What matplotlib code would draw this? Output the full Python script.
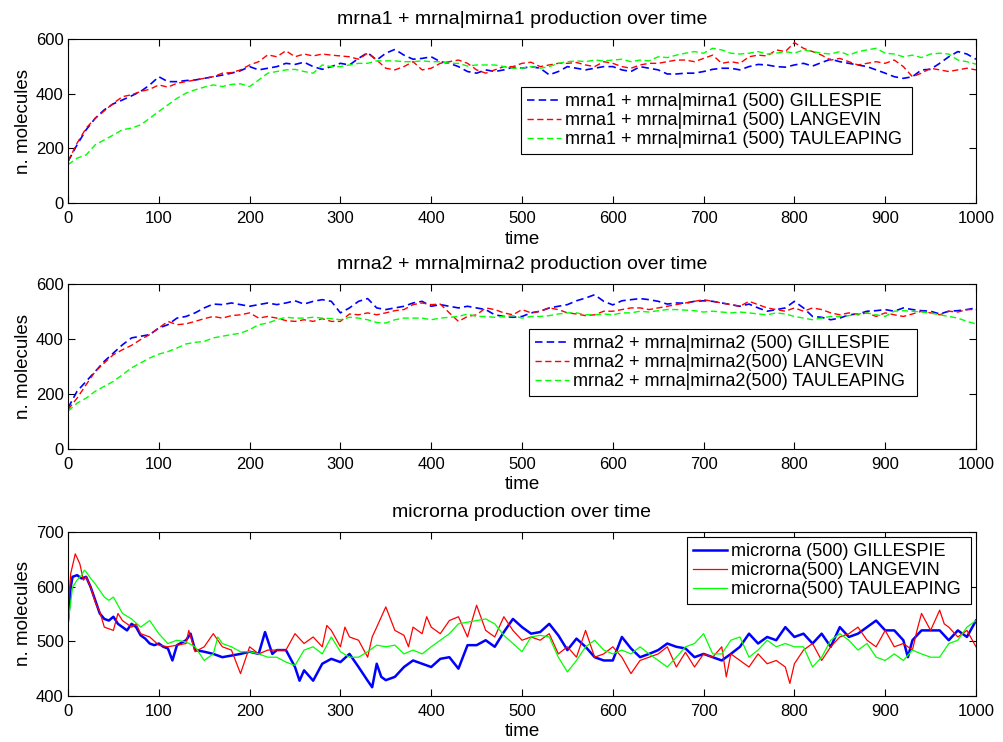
import numpy as np
import matplotlib
matplotlib.use("Agg")
import matplotlib.pyplot as plt

plt.rcParams['font.family'] = ['Liberation Sans', 'DejaVu Sans']

# ---------------- data: panel 1 & 2 (time grid every 10 units) ----------------
time_grid = np.arange(0, 1001, 10)

mrna1_gillespie = [
    152, 213, 268, 310, 341, 363, 377, 392, 408, 432,
    462, 444, 444, 448, 450, 456, 462, 468, 475, 484,
    499, 487, 493, 499, 511, 507, 515, 499, 489, 499,
    511, 505, 529, 550, 523, 548, 562, 541, 526, 529,
    535, 517, 511, 499, 481, 475, 487, 481, 487, 497,
    493, 499, 493, 469, 481, 499, 493, 487, 493, 499,
    499, 487, 481, 499, 493, 487, 472, 472, 475, 475,
    481, 489, 493, 493, 487, 499, 507, 505, 499, 497,
    505, 511, 501, 514, 526, 517, 511, 505, 499, 487,
    475, 462, 456, 462, 487, 489, 511, 535, 554, 545,
    526]
mrna1_langevin = [
    152, 219, 274, 310, 337, 365, 389, 396, 408, 416,
    432, 424, 438, 444, 450, 456, 462, 475, 477, 487,
    505, 517, 542, 535, 557, 535, 545, 538, 545, 541,
    538, 535, 526, 548, 523, 493, 487, 499, 517, 487,
    493, 511, 517, 523, 511, 487, 475, 487, 499, 499,
    511, 515, 499, 505, 511, 511, 514, 505, 499, 517,
    511, 499, 493, 505, 511, 511, 517, 523, 523, 517,
    529, 541, 511, 517, 511, 535, 541, 538, 560, 554,
    587, 566, 554, 541, 523, 529, 517, 505, 511, 517,
    511, 523, 499, 462, 475, 493, 487, 481, 487, 493,
    487]
mrna1_tauleaping = [
    140, 164, 176, 213, 231, 249, 268, 274, 286, 310,
    335, 359, 383, 402, 414, 424, 432, 426, 434, 436,
    426, 450, 475, 481, 487, 489, 481, 475, 505, 499,
    499, 505, 511, 511, 520, 520, 520, 517, 517, 520,
    517, 517, 511, 511, 501, 505, 505, 505, 499, 493,
    493, 499, 493, 499, 511, 517, 520, 517, 523, 520,
    523, 526, 517, 523, 520, 535, 532, 541, 548, 554,
    548, 566, 560, 548, 545, 548, 554, 545, 548, 554,
    548, 560, 554, 548, 545, 554, 541, 554, 560, 566,
    548, 545, 535, 541, 532, 545, 548, 545, 523, 517,
    508]

mrna2_gillespie = [
    149, 210, 246, 282, 319, 349, 379, 404, 410, 416,
    440, 452, 476, 482, 495, 513, 527, 525, 531, 525,
    519, 525, 531, 525, 531, 539, 527, 537, 543, 537,
    495, 513, 537, 547, 513, 507, 513, 519, 531, 537,
    519, 525, 519, 513, 519, 513, 507, 488, 482, 479,
    482, 495, 501, 513, 519, 525, 539, 549, 561, 537,
    524, 539, 543, 547, 543, 537, 527, 531, 530, 537,
    539, 537, 531, 525, 519, 527, 513, 501, 507, 513,
    537, 513, 482, 479, 470, 476, 488, 491, 501, 503,
    507, 501, 513, 507, 503, 501, 491, 501, 503, 507,
    513]
mrna2_langevin = [
    143, 185, 234, 282, 313, 343, 361, 377, 398, 416,
    440, 464, 452, 455, 464, 474, 482, 476, 485, 488,
    495, 476, 482, 476, 467, 464, 470, 464, 474, 464,
    464, 491, 488, 495, 488, 495, 503, 507, 525, 531,
    525, 527, 495, 464, 482, 488, 513, 507, 495, 488,
    507, 495, 501, 513, 507, 495, 491, 485, 488, 501,
    501, 507, 513, 513, 507, 513, 519, 525, 531, 537,
    543, 537, 531, 525, 519, 537, 525, 513, 507, 501,
    513, 501, 513, 507, 495, 488, 495, 488, 495, 482,
    495, 488, 482, 491, 501, 495, 488, 501, 498, 507,
    507]
mrna2_tauleaping = [
    137, 167, 185, 210, 228, 246, 270, 295, 313, 331,
    345, 354, 367, 382, 388, 391, 404, 410, 416, 421,
    434, 452, 458, 470, 479, 476, 476, 479, 476, 474,
    470, 479, 476, 470, 460, 458, 470, 476, 476, 476,
    470, 476, 479, 482, 491, 482, 482, 479, 482, 485,
    476, 482, 482, 485, 491, 495, 495, 488, 488, 491,
    488, 495, 495, 501, 498, 503, 507, 507, 505, 503,
    498, 501, 498, 495, 498, 495, 491, 488, 495, 491,
    482, 476, 470, 476, 482, 482, 485, 491, 495, 488,
    482, 501, 503, 501, 498, 495, 488, 482, 476, 464,
    455]

# ---------------- data: panel 3 (microrna) ----------------
mi_gil_t = [0, 3, 5, 10, 15, 20, 25, 30, 35, 40, 45, 50, 55, 60, 65, 70, 75, 80, 85, 90,
            95, 100, 105, 110, 115, 120, 130, 135, 140, 150, 160, 170, 180, 190, 200, 210,
            217, 225, 230, 240, 250, 255, 260, 270, 280, 290, 300, 310, 320, 330, 335, 340,
            345, 350, 360, 370, 380, 390, 400, 410, 420, 430, 440, 450, 460, 470, 480, 490,
            500, 510, 520, 530, 540, 550, 560, 570, 580, 590, 600, 610, 620, 630, 640, 650,
            660, 670, 680, 690, 700, 710, 720, 730, 740, 750, 760, 770, 780, 790, 800, 810,
            820, 830, 840, 850, 860, 870, 880, 890, 900, 910, 920, 925, 930, 940, 950, 960,
            970, 980, 990, 1000]
mi_gil_v = [538, 599, 618, 621, 615, 618, 599, 575, 551, 541, 538, 545, 532, 526, 520, 532, 526, 511, 505, 496,
            493, 496, 490, 487, 465, 493, 502, 514, 484, 481, 477, 471, 474, 477, 481, 477,
            517, 477, 484, 484, 453, 428, 447, 428, 459, 468, 462, 477, 453, 428, 416, 459,
            435, 429, 435, 453, 465, 459, 453, 468, 471, 450, 493, 493, 502, 490, 517, 541,
            526, 514, 517, 532, 511, 484, 505, 490, 471, 465, 465, 508, 487, 471, 477, 484,
            496, 490, 487, 471, 477, 471, 465, 477, 490, 514, 496, 508, 502, 526, 508, 514,
            496, 514, 490, 526, 508, 514, 526, 538, 520, 520, 502, 471, 502, 520, 520, 520,
            502, 520, 508, 538]

mi_lan_t = [0, 3, 8, 13, 17, 20, 25, 30, 35, 40, 50, 55, 60, 70, 75, 80, 90, 100, 110, 120,
            130, 133, 140, 150, 160, 170, 180, 190, 200, 210, 220, 230, 240, 250, 260, 270,
            280, 285, 290, 300, 305, 310, 320, 330, 335, 340, 350, 360, 370, 375, 380, 390,
            395, 400, 410, 420, 430, 440, 445, 450, 460, 470, 480, 490, 500, 510, 520, 530,
            540, 550, 560, 570, 580, 590, 600, 610, 620, 630, 640, 650, 660, 670, 680, 690,
            700, 710, 720, 725, 730, 740, 750, 760, 770, 780, 790, 795, 800, 810, 820, 830,
            840, 850, 860, 870, 880, 890, 900, 910, 920, 930, 935, 940, 950, 960, 965, 970,
            980, 990, 1000]
mi_lan_v = [557, 624, 660, 642, 612, 618, 599, 572, 554, 526, 520, 551, 538, 526, 532, 514, 508, 493, 490, 493,
            496, 520, 481, 490, 514, 490, 484, 441, 490, 477, 484, 484, 484, 514, 496, 508,
            490, 529, 520, 490, 526, 508, 502, 471, 508, 526, 563, 520, 511, 490, 526, 514,
            545, 526, 514, 538, 545, 508, 538, 566, 520, 508, 545, 520, 502, 508, 502, 514,
            477, 490, 471, 520, 471, 477, 490, 471, 441, 465, 471, 477, 490, 453, 480, 453,
            477, 471, 490, 435, 477, 465, 453, 477, 459, 465, 453, 423, 459, 484, 496, 465,
            490, 508, 514, 526, 502, 490, 520, 490, 496, 484, 520, 551, 520, 557, 532, 526,
            508, 520, 490]

mi_tau_t = [0, 5, 10, 15, 18, 20, 25, 30, 40, 45, 50, 55, 60, 70, 80, 90, 100, 110, 120, 130,
            140, 150, 160, 165, 170, 180, 190, 200, 210, 220, 230, 240, 250, 260, 270, 280,
            290, 300, 310, 320, 330, 340, 350, 360, 370, 380, 390, 400, 410, 420, 430, 440,
            450, 460, 470, 480, 490, 500, 510, 520, 530, 540, 550, 560, 570, 580, 590, 600,
            610, 620, 630, 640, 650, 660, 670, 680, 690, 700, 710, 720, 730, 740, 750, 760,
            770, 780, 790, 800, 810, 820, 830, 840, 850, 860, 870, 880, 890, 900, 910, 920,
            930, 940, 950, 960, 970, 980, 990, 1000]
mi_tau_v = [532, 599, 612, 621, 630, 627, 615, 605, 581, 575, 581, 566, 551, 541, 526, 538, 514, 496, 502, 499,
            490, 465, 477, 508, 496, 490, 481, 481, 477, 471, 471, 462, 456, 484, 490, 477,
            508, 481, 471, 471, 481, 493, 490, 493, 477, 484, 477, 490, 502, 514, 532, 535,
            538, 541, 532, 511, 496, 481, 508, 511, 508, 471, 444, 465, 490, 502, 484, 477,
            484, 477, 490, 477, 465, 453, 471, 490, 496, 514, 477, 477, 502, 508, 471, 484,
            502, 490, 496, 490, 490, 453, 471, 502, 514, 502, 484, 496, 471, 465, 477, 465,
            484, 477, 471, 471, 496, 502, 526, 538]

titles = ["mrna1 + mrna|mirna1 production over time",
          "mrna2 + mrna|mirna2 production over time",
          "microrna production over time"]
labels1 = ["mrna1 + mrna|mirna1 (500) GILLESPIE",
           "mrna1 + mrna|mirna1 (500) LANGEVIN",
           "mrna1 + mrna|mirna1 (500) TAULEAPING"]
labels2 = ["mrna2 + mrna|mirna2 (500) GILLESPIE",
           "mrna2 + mrna|mirna2(500) LANGEVIN",
           "mrna2 + mrna|mirna2(500) TAULEAPING"]
labels3 = ["microrna (500) GILLESPIE",
           "microrna(500) LANGEVIN",
           "microrna(500) TAULEAPING"]

W, H = 1004, 742
fig = plt.figure(figsize=(W / 100, H / 100), dpi=100)
fig.patch.set_facecolor('white')

def axrect(left, top, right, bottom):
    return [left / W, 1 - bottom / H, (right - left) / W, (bottom - top) / H]

ax1 = fig.add_axes(axrect(68, 39, 976, 203))
ax2 = fig.add_axes(axrect(68, 284, 976, 449))
ax3 = fig.add_axes(axrect(68, 532, 976, 696))

BLUE, RED, GREEN = (0, 0, 1), (1, 0, 0), (0, 1, 0)

def style(ax, ylim, yticks, title):
    ax.set_xlim(0, 1000)
    ax.set_ylim(*ylim)
    ax.set_xticks(np.arange(0, 1001, 100))
    ax.set_yticks(yticks)
    ax.tick_params(direction='in', top=True, right=True, length=5, width=0.8,
                   labelsize=12, pad=3)
    ax.tick_params(axis='x', pad=6)
    for s in ax.spines.values():
        s.set_linewidth(0.8)
    ax.set_xlabel("time", fontsize=13.5, labelpad=3)
    ax.set_ylabel("n. molecules", fontsize=13.5, labelpad=3)
    ax.set_title(title, fontsize=14, pad=11)

def legend(ax, labels, box):
    l, t, r, b = box
    leg = ax.legend(labels, loc='upper left',
                    bbox_to_anchor=(l / W, 1 - t / H, (r - l) / W, 0),
                    bbox_transform=fig.transFigure, mode='expand',
                    borderaxespad=0, fancybox=False, edgecolor='black',
                    framealpha=1, fontsize=13, handlelength=1.85,
                    handletextpad=0.25, borderpad=0.35, labelspacing=0.1)
    leg.get_frame().set_linewidth(0.8)
    return leg

dash = (0, (4.5, 2.5))
ax1.plot(time_grid, mrna1_gillespie, color=BLUE, lw=1.2, linestyle=dash)
ax1.plot(time_grid, mrna1_langevin, color=RED, lw=1.0, linestyle=dash)
ax1.plot(time_grid, mrna1_tauleaping, color=GREEN, lw=1.0, linestyle=dash)
style(ax1, (0, 600), [0, 200, 400, 600], titles[0])
legend(ax1, labels1, (521, 87, 912, 163))

ax2.plot(time_grid, mrna2_gillespie, color=BLUE, lw=1.2, linestyle=dash)
ax2.plot(time_grid, mrna2_langevin, color=RED, lw=1.0, linestyle=dash)
ax2.plot(time_grid, mrna2_tauleaping, color=GREEN, lw=1.0, linestyle=dash)
style(ax2, (0, 600), [0, 200, 400, 600], titles[1])
legend(ax2, labels2, (529, 329, 917, 404))

ax3.plot(mi_gil_t, mi_gil_v, color=BLUE, lw=1.8)
ax3.plot(mi_lan_t, mi_lan_v, color=RED, lw=0.9)
ax3.plot(mi_tau_t, mi_tau_v, color=GREEN, lw=0.9)
style(ax3, (400, 700), [400, 500, 600, 700], titles[2])
legend(ax3, labels3, (687, 537, 971, 612))

fig.savefig("out.png", dpi=100, facecolor='white')
